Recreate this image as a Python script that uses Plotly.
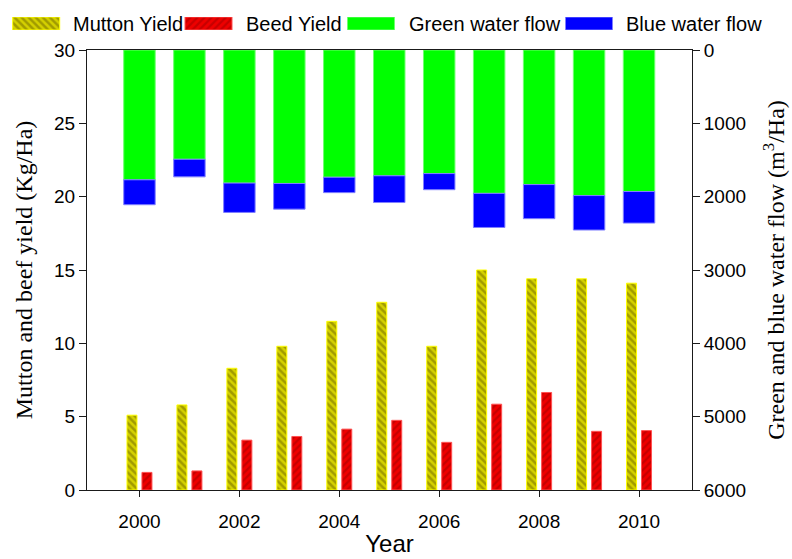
import plotly.graph_objects as go

# ---- data -------------------------------------------------------------
years = [2000, 2001, 2002, 2003, 2004, 2005, 2006, 2007, 2008, 2009, 2010]
mutton_yield = [5.1, 5.8, 8.3, 9.8, 11.5, 12.8, 9.8, 15.0, 14.4, 14.4, 14.1]   # Kg/Ha
beef_yield = [1.2, 1.3, 3.4, 3.65, 4.15, 4.75, 3.25, 5.85, 6.65, 4.0, 4.05]     # Kg/Ha
green_water = [1770, 1490, 1815, 1820, 1735, 1715, 1685, 1955, 1835, 1985, 1930]  # m3/Ha
blue_water = [340, 240, 400, 350, 210, 365, 220, 465, 465, 470, 430]            # m3/Ha
x_ticks = [2000, 2002, 2004, 2006, 2008, 2010]
left_ticks = [0, 5, 10, 15, 20, 25, 30]
right_ticks = [0, 1000, 2000, 3000, 4000, 5000, 6000]

# ---- page geometry (pixels) --------------------------------------------
W, H = 792, 559
PLOT_L, PLOT_R, PLOT_T, PLOT_B = 87, 692, 50, 490

SANS = "Liberation Sans, Arial, sans-serif"
SERIF = "Liberation Serif, Times New Roman, serif"

# bar styles
mutton_marker = dict(
    color="#d4d000",
    line=dict(color="#ffff00", width=1),
    pattern=dict(shape="\\", bgcolor="#d4d000", fgcolor="#6e6600", size=5, solidity=0.5),
)
beef_marker = dict(
    color="#ee0000",
    line=dict(color="#ff5050", width=1),
    pattern=dict(shape="/", bgcolor="#ee0000", fgcolor="#a00000", size=5, solidity=0.45),
)
green_marker = dict(color="#00ff00", line=dict(color="#70ff70", width=1))
blue_marker = dict(color="#0000ff", line=dict(color="#8080ff", width=1))

fig = go.Figure()

# water flow bars, hanging from the top on the reversed right axis
fig.add_trace(go.Bar(x=years, y=green_water, base=0, width=0.63, offset=-0.315,
                     yaxis="y2", marker=green_marker, name="Green water flow",
                     showlegend=False))
fig.add_trace(go.Bar(x=years, y=blue_water, base=green_water, width=0.63, offset=-0.315,
                     yaxis="y2", marker=blue_marker, name="Blue water flow",
                     showlegend=False))

# yield bars on the left axis
fig.add_trace(go.Bar(x=years, y=mutton_yield, width=0.2, offset=-0.25,
                     marker=mutton_marker, name="Mutton Yield", showlegend=False))
fig.add_trace(go.Bar(x=years, y=beef_yield, width=0.2, offset=0.05,
                     marker=beef_marker, name="Beed Yield", showlegend=False))

# ---- legend row along the top -----------------------------------------
legend_items = [
    ("Mutton Yield", mutton_marker, 12.7, 70.5),
    ("Beed Yield", beef_marker, 185.0, 244.0),
    ("Green water flow", green_marker, 347.5, 406.5),
    ("Blue water flow", blue_marker, 565.5, 624.0),
]
SW_W, SW_T, SW_B = 47, 17, 30
for name, marker, sx, tx in legend_items:
    fig.add_trace(go.Bar(x=[sx + SW_W / 2], y=[1], base=0, width=[SW_W],
                         xaxis="x3", yaxis="y3", marker=marker,
                         showlegend=False, hoverinfo="skip"))
    fig.add_annotation(text=name, xref="paper", yref="paper",
                       x=tx / W, y=1 - (SW_T + SW_B) / 2 / H,
                       xanchor="left", yanchor="middle", showarrow=False,
                       font=dict(family=SANS, size=20, color="black"))

axis_common = dict(
    showline=True, linecolor="#1a1a1a", linewidth=1,
    ticks="outside", ticklen=7, tickcolor="#1a1a1a", tickwidth=1,
    showgrid=False, zeroline=False, automargin=False,
    tickfont=dict(family=SANS, size=19, color="black"),
)

fig.update_layout(
    width=W, height=H,
    margin=dict(l=0, r=0, t=0, b=0),
    paper_bgcolor="white", plot_bgcolor="white",
    barmode="overlay", showlegend=False,
    xaxis=dict(
        axis_common,
        domain=[PLOT_L / W, PLOT_R / W],
        range=[1998.95, 2011.06],
        tickvals=x_ticks, ticklen=6, mirror=True, ticklabelstandoff=8,
        title=dict(text="Year", font=dict(family=SANS, size=24, color="black"), standoff=4),
        anchor="y",
    ),
    yaxis=dict(
        axis_common,
        domain=[1 - PLOT_B / H, 1 - PLOT_T / H],
        range=[0, 30], tickvals=left_ticks,
        title=dict(text="Mutton and beef yield (Kg/Ha)",
                   font=dict(family=SERIF, size=24, color="black"), standoff=14),
        anchor="x",
    ),
    yaxis2=dict(
        axis_common,
        overlaying="y", side="right", anchor="x",
        range=[6000, 0], tickvals=right_ticks,
        title=dict(text="Green and blue water flow (m<sup>3</sup>/Ha)",
                   font=dict(family=SERIF, size=24, color="black"), standoff=22),
    ),
    xaxis3=dict(domain=[0, 1], range=[0, W], visible=False, anchor="y3", fixedrange=True),
    yaxis3=dict(domain=[1 - SW_B / H, 1 - SW_T / H], range=[0, 1], visible=False,
                anchor="x3", fixedrange=True),
)

fig.write_html("out.html")
